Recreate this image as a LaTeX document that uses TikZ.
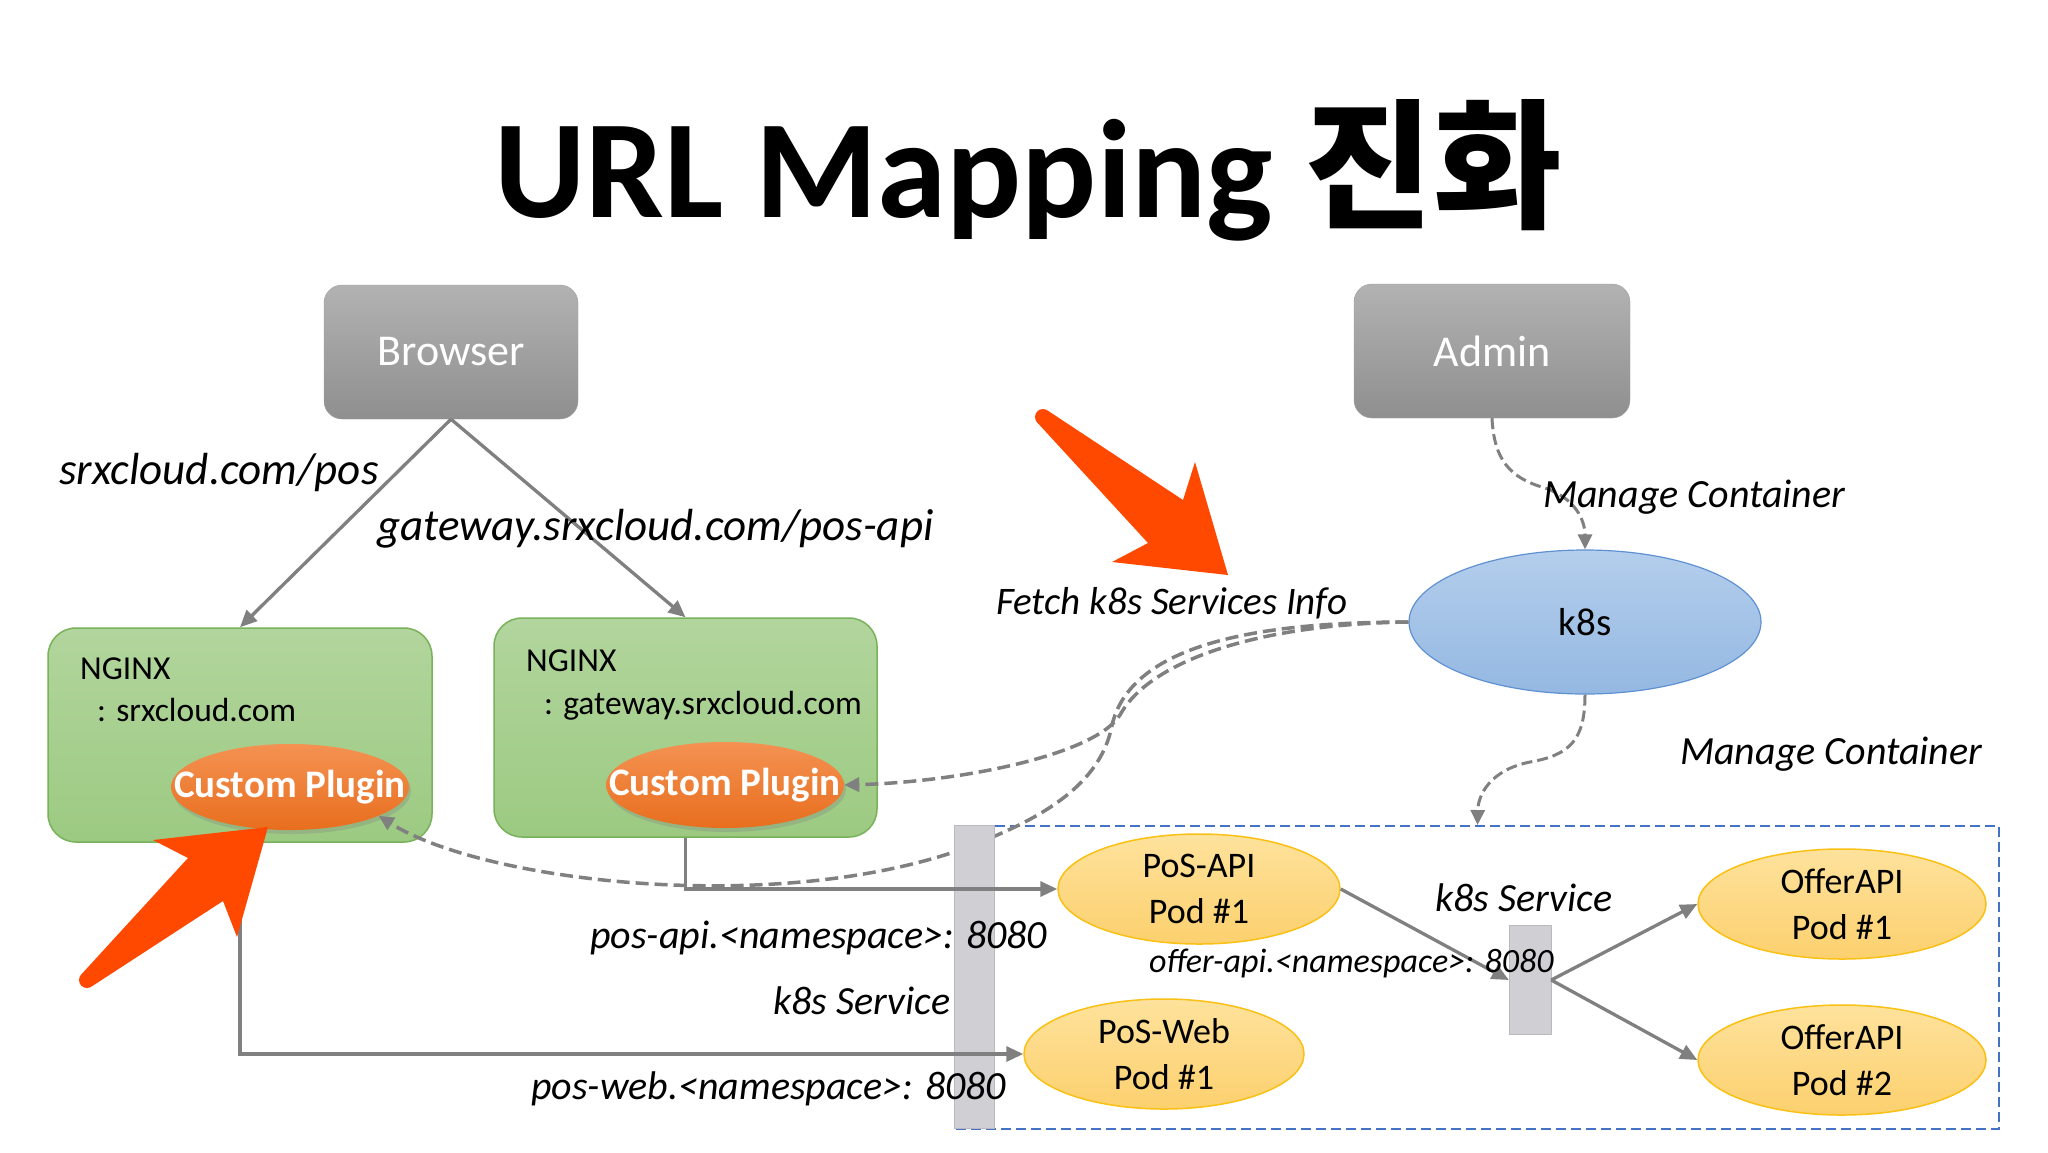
\documentclass[tikz,border=0pt]{standalone}
\usepackage{fontspec}
\setmainfont{Carlito}
\newfontfamily\krfont{Noto Sans CJK KR}
\usetikzlibrary{arrows.meta,shapes.geometric,shadows}

\definecolor{boxtop}{RGB}{178,178,178}
\definecolor{boxbot}{RGB}{143,143,143}
\definecolor{boxedge}{RGB}{160,160,160}
\definecolor{nginxtop}{RGB}{178,213,157}
\definecolor{nginxbot}{RGB}{156,202,130}
\definecolor{nginxedge}{RGB}{120,178,90}
\definecolor{plugtop}{RGB}{244,146,82}
\definecolor{plugbot}{RGB}{232,110,30}
\definecolor{k8stop}{RGB}{180,206,236}
\definecolor{k8sbot}{RGB}{148,184,226}
\definecolor{k8sedge}{RGB}{95,145,210}
\definecolor{podtop}{RGB}{254,226,156}
\definecolor{podbot}{RGB}{252,208,110}
\definecolor{podedge}{RGB}{250,192,20}
\definecolor{barfill}{RGB}{208,207,211}
\definecolor{baredge}{RGB}{185,185,190}
\definecolor{linegray}{RGB}{128,128,128}
\definecolor{zoneblue}{RGB}{68,114,196}
\definecolor{callred}{RGB}{255,72,0}

\tikzset{
  userbox/.style={rectangle, rounded corners=18pt, draw=boxedge, top color=boxtop, bottom color=boxbot,
    text=white, minimum height=134pt, font=\fontsize{44}{48}\selectfont},
  nginxbox/.style={rectangle, rounded corners=28pt, draw=nginxedge, line width=1.5pt,
    top color=nginxtop, bottom color=nginxbot, minimum width=384pt},
  nginxtxt/.style={anchor=base west, inner sep=0pt, font=\fontsize{33.5}{36}\selectfont},
  plugin/.style={ellipse, top color=plugtop, bottom color=plugbot, minimum width=238pt, minimum height=86pt,
    inner sep=0pt, text=white, font=\fontsize{39}{42}\selectfont\bfseries,
    drop shadow={opacity=0.3, shadow xshift=2pt, shadow yshift=-4pt}},
  podnode/.style={ellipse, draw=podedge, line width=1.5pt, top color=podtop, bottom color=podbot,
    inner xsep=0pt, inner ysep=-2pt, align=center, minimum height=110pt, font=\fontsize{36}{46}\selectfont},
  svcbar/.style={rectangle, draw=baredge, fill=barfill, inner sep=0pt},
  lbl/.style={anchor=base west, inner sep=0pt, font=\fontsize{40}{44}\selectfont\itshape},
  flow/.style={draw=linegray, line width=3.3pt, -{Triangle[length=17pt,width=15pt]}},
  fetch/.style={draw=linegray, line width=3.5pt, dash pattern=on 13pt off 6pt, -{Triangle[length=15pt,width=14pt]}},
  callout/.style={fill=callred}
}

\begin{document}
\begin{tikzpicture}[x=1pt,y=-1pt]
  \useasboundingbox (0,0) rectangle (2048,1152);
  \fill[white] (0,0) rectangle (2048,1152);

  \node[anchor=base, inner sep=0pt, font=\fontsize{140}{150}\selectfont\bfseries] (title) at (1028,217)
    {URL Mapping {\krfont\bfseries 진화}};

  % users and gateways
  \node[userbox, minimum width=254pt] (browser) at (451,352) {Browser};
  \node[userbox, minimum width=276pt] (admin) at (1492,351) {Admin};

  \node[nginxbox, minimum height=214pt] (nginxA) at (240,735) {};
  \node[nginxbox, minimum width=383pt, minimum height=219pt] (nginxB) at (685.5,727.5) {};
  \node[nginxtxt] (nginxAname) at (80,679) {NGINX};
  \node[nginxtxt] (nginxAhost) at (97,721) {: srxcloud.com};
  \node[nginxtxt] (nginxBname) at (526,671) {NGINX};
  \node[nginxtxt] (nginxBhost) at (544,714) {: gateway.srxcloud.com};

  \node[plugin] (plugA) at (290,787) {\makebox[0pt]{Custom Plugin}};
  \node[plugin] (plugB) at (725,785) {\makebox[0pt]{Custom Plugin}};

  \node[ellipse, draw=k8sedge, line width=1.2pt, top color=k8stop, bottom color=k8sbot,
    minimum width=352pt, minimum height=144pt, font=\fontsize{39}{42}\selectfont] (k8s) at (1585,622) {k8s};

  \node[draw=zoneblue, line width=2pt, dash pattern=on 10pt off 5pt, minimum width=1043pt,
    minimum height=303pt] (podzone) at (1477.5,977.5) {};

  % fetch k8s services info
  \draw[fetch] (k8s.west) .. controls (1240,622) and (1130,650) .. (1112,725)
    .. controls (1100,790) and (1030,825) .. (951,853)
    .. controls (760,915) and (480,880) .. (plugA.-18);
  \draw[fetch] (k8s.west) .. controls (1260,624) and (1150,660) .. (1120,715)
    .. controls (1095,755) and (960,782) .. (plugB.east);

  \node[svcbar, minimum width=40pt, minimum height=303pt] (svcA) at (974,977) {};
  \node[svcbar, minimum width=42pt, minimum height=109pt] (svcB) at (1530,980) {};

  \node[podnode, minimum width=282pt] (podApi) at (1199,889) {PoS-API\\Pod \#1};
  \node[podnode, minimum width=280pt] (podWeb) at (1164,1054) {PoS-Web\\Pod \#1};
  \node[podnode, minimum width=288pt] (offer1) at (1842,904) {OfferAPI\\Pod \#1};
  \node[podnode, minimum width=288pt] (offer2) at (1842,1060) {OfferAPI\\Pod \#2};

  % manage container
  \begin{scope}[fetch, line width=3pt, dash pattern=on 11pt off 5pt]
    \draw (admin.south) .. controls (1494,460) and (1510,478) .. (1545,488)
      .. controls (1575,498) and (1585,520) .. (k8s.north);
    \draw (k8s.south) .. controls (1585,740) and (1570,755) .. (1530,762)
      .. controls (1490,770) and (1478,795) .. (podzone.north);
  \end{scope}

  \begin{scope}[flow]
    \draw (browser.south) to (nginxA.north);
    \draw (browser.south) to (nginxB.north);
    \draw (nginxB.south) |- (podApi.west);
    \draw (nginxA.south) |- (podWeb.west);
    \draw (podApi.east) to (svcB.west);
    \draw (svcB.east) to (offer1.west);
    \draw (svcB.east) to (offer2.west);
  \end{scope}

  % red callout arrows
  \fill[callout] (1037.8,423.1) -- (1148,543) -- (1112,562) -- (1228,575) -- (1195,462) -- (1183,500)
    -- (1048.2,410.9) -- cycle;
  \fill[callout] (1043,417) circle (8pt);
  \fill[callout] (81.8,973.9) -- (188,858) -- (153,840) -- (268,827) -- (237,937) -- (223,901)
    -- (92.2,986.1) -- cycle;
  \fill[callout] (87,980) circle (8pt);

  % labels
  \node[lbl, font=\fontsize{45}{48}\selectfont\itshape] (urlPos) at (59,484) {srxcloud.com/pos};
  \node[lbl, font=\fontsize{45}{48}\selectfont\itshape] (urlApi) at (377,540) {gateway.srxcloud.com/pos-api};
  \node[lbl, font=\fontsize{39}{42}\selectfont\itshape] (fetchTxt) at (996,614) {Fetch k8s Services Info};
  \node[lbl] (manageA) at (1543,507) {Manage Container};
  \node[lbl] (manageB) at (1680,764) {Manage Container};
  \node[lbl] (svcBtxt) at (1435,911) {k8s Service};
  \node[lbl, font=\fontsize{34}{38}\selectfont\itshape] (offerTxt) at (1149,972) {offer-api.<namespace>: 8080};
  \node[lbl] (posApiTxt) at (590,948) {pos-api.<namespace>: 8080};
  \node[lbl] (svcAtxt) at (773,1014) {k8s Service};
  \node[lbl] (posWebTxt) at (531,1099) {pos-web.<namespace>: 8080};
\end{tikzpicture}
\end{document}
